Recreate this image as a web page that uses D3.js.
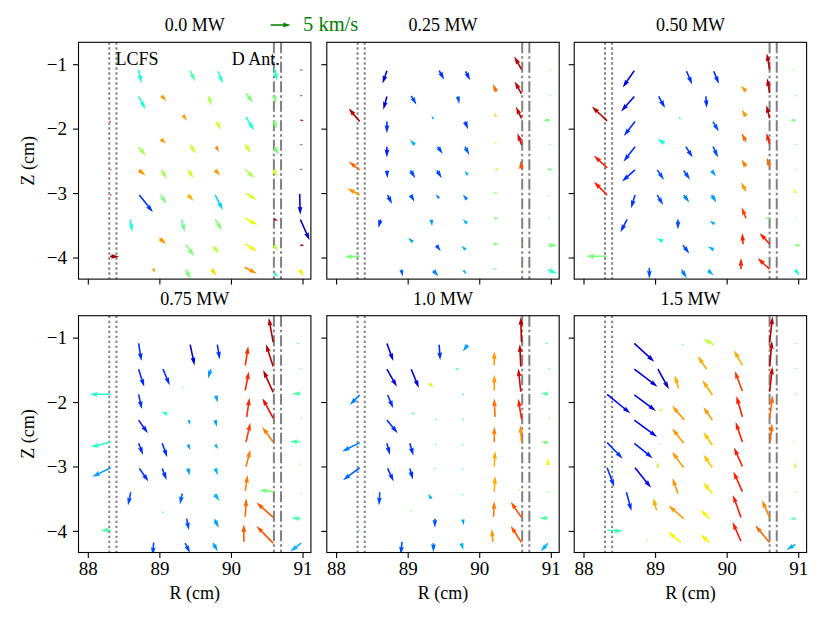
<!DOCTYPE html>
<html><head><meta charset="utf-8">
<script src="https://cdn.jsdelivr.net/npm/d3@7"></script>
<style>body{margin:0;background:#fff}</style></head>
<body><svg id="c" width="831" height="629"></svg>
<script>
// ---------------- data ----------------
const titles = ["0.0 MW", "0.25 MW", "0.50 MW", "0.75 MW", "1.0 MW", "1.5 MW"];
const xTicks = [88, 89, 90, 91];
const yTicks = [-1, -2, -3, -4];
const lcfsR = [88.3, 88.4];
const antennaR = [90.6, 90.7];
const keySpeed = 5; // km/s
const keyLabel = "5 km/s";
// each arrow: [R (cm), Z (cm), vR (km/s), vZ (km/s), colour value 0..1 (jet)]
const p000 = [
[88.71,-1.09,0.67,-3.3,0.38],[89.43,-1.10,1.25,-2.7,0.45],[89.82,-1.11,1.2,-3.1,0.40],[90.61,-1.06,0.6,-3.2,0.40],[90.97,-1.09,0.7,0,0.97],
[88.71,-1.50,1.7,-3.2,0.38],[89.03,-1.49,1.25,-1.3,0.75],[89.69,-1.50,0.7,-2.3,0.55],[90.21,-1.45,1.7,-2.3,0.50],[90.60,-1.49,0.7,-1.8,0.50],[90.97,-1.49,0.6,0,0.97],
[89.33,-1.79,1.0,-1.4,0.75],[89.80,-1.89,1.1,-2.1,0.60],[90.21,-1.82,2.0,-3.3,0.38],[90.60,-1.87,0.7,-2.2,0.50],[90.97,-1.87,0.9,0,0.97],[88.30,-1.89,0.6,0,0.90],
[88.71,-2.28,1.8,-2.25,0.55],[89.02,-2.16,1.3,-1.2,0.75],[89.43,-2.25,1.4,-2.25,0.60],[89.79,-2.28,0.8,-1.25,0.78],[90.20,-2.24,1.3,-2.2,0.60],[90.61,-2.28,1.0,-2.1,0.50],[90.97,-2.25,0.6,0,0.97],
[88.71,-2.64,1.7,-1.4,0.75],[89.03,-2.64,1.25,-2.25,0.55],[89.40,-2.64,1.4,-2.1,0.60],[89.78,-2.64,1.25,-1.4,0.75],[90.20,-2.63,2.3,-2.25,0.55],[90.60,-2.64,0.8,-1.8,0.60],[90.97,-2.63,0.6,0,0.97],[88.31,-2.64,0.6,0,0.90],
[88.72,-3.03,3.4,-4.3,0.18],[89.02,-3.03,1.4,-2.25,0.50],[89.40,-3.03,1.4,-1.5,0.72],[89.78,-3.03,1.9,-3.75,0.33],[90.21,-3.00,2.7,-1.8,0.60],[90.96,-3.01,0.15,-5.25,0.08],[88.31,-3.03,0.6,0,0.90],
[88.59,-3.41,0.6,-3.1,0.38],[89.31,-3.41,0.8,-3.1,0.47],[89.78,-3.41,1.7,-2.75,0.50],[90.20,-3.39,3.1,-1.7,0.63],[90.60,-3.41,1.1,-0.2,0.97],[90.97,-3.41,2.3,-5.2,0.05],
[89.00,-3.70,1.7,-1.5,0.75],[89.37,-3.80,2.1,-2.9,0.50],[89.75,-3.83,1.6,-1.7,0.58],[90.20,-3.79,2.9,-1.8,0.65],[90.60,-3.81,1.1,-1.4,0.58],[90.97,-3.81,1.0,0,0.97],[88.31,-3.98,2.3,-0.15,0.97],
[88.91,-4.17,0.6,-1.1,0.75],[89.37,-4.19,1.25,-2.3,0.50],[89.73,-4.18,1.25,-1.7,0.68],[90.19,-4.15,3.1,-1.6,0.76],[90.61,-4.24,0.8,-1.2,0.40],[90.96,-4.19,1.0,-1.7,0.65]
];
const p025 = [
[88.71,-1.10,-1.1,-3.2,0.08],[89.44,-1.10,1.25,-2.25,0.17],[89.81,-1.11,1.1,-2.25,0.17],[90.59,-1.08,-1.8,3.2,0.95],[90.98,-1.09,0.6,0,0.50],
[88.71,-1.50,-0.9,-3.3,0.08],[89.05,-1.49,1.3,-2.25,0.20],[89.70,-1.50,0.4,-1.8,0.20],[90.24,-1.43,-0.9,2.0,0.80],[90.59,-1.46,-1.7,3.1,0.95],[90.98,-1.49,0.6,0,0.50],
[88.33,-1.89,-2.75,3.3,0.95],[88.71,-1.89,0,-2.9,0.17],[89.36,-1.85,-0.5,0.9,0.30],[89.80,-1.89,0.8,-1.9,0.18],[90.24,-1.81,-0.7,0.8,0.70],[90.59,-1.84,-1.4,2.9,0.93],[90.98,-1.87,-1.7,0,0.50],
[88.71,-2.28,0,-2.7,0.15],[89.10,-2.25,-1.25,1.25,0.30],[89.42,-2.28,1.25,-1.8,0.20],[89.80,-2.28,1.1,-2.1,0.22],[90.24,-2.23,-0.6,0.4,0.63],[90.59,-2.25,-1.0,2.9,0.92],[90.98,-2.25,0.6,0,0.50],
[88.33,-2.64,-2.75,2.1,0.80],[88.71,-2.65,0.15,-1.9,0.17],[89.04,-2.65,1.2,-1.9,0.20],[89.41,-2.65,1.2,-1.9,0.20],[89.84,-2.72,-0.8,1.1,0.30],[90.26,-2.63,-1.0,0,0.58],[90.59,-2.63,-0.3,2.1,0.82],[90.96,-2.63,1.2,0,0.50],
[88.33,-3.03,-3.1,1.7,0.75],[88.72,-3.03,1.1,-2.25,0.18],[89.04,-3.03,1.0,-1.7,0.20],[89.44,-3.08,-0.9,1.0,0.25],[89.83,-3.10,-1.1,1.25,0.25],[90.21,-3.00,1.0,0,0.52],[90.96,-3.03,0.5,-0.2,0.40],
[88.62,-3.41,-0.5,-2.1,0.18],[89.33,-3.41,0.2,-1.7,0.28],[89.83,-3.47,-1.1,1.0,0.30],[90.21,-3.39,1.2,0,0.50],[90.96,-3.40,0.6,0,0.50],
[88.33,-3.98,-3.9,-0.2,0.50],[89.07,-3.76,-1.1,1.1,0.28],[89.40,-3.81,1.1,-1.5,0.20],[89.81,-3.88,-1.1,1.0,0.30],[90.20,-3.79,1.4,0,0.50],[90.59,-3.79,0.5,0,0.65],[90.96,-3.81,2.3,0,0.50],
[88.91,-4.19,0.4,-1.7,0.22],[89.36,-4.20,1.25,-1.5,0.25],[89.78,-4.20,0.8,-1.0,0.30],[90.20,-4.18,1.0,0,0.50],[90.59,-4.18,0.5,0,0.65],[90.96,-4.19,2.3,-1.0,0.40]
];
const p050 = [
[90.60,-1.08,-0.7,4.0,0.95],[88.71,-1.10,-2.9,-4.2,0.08],[89.44,-1.11,1.4,-3.3,0.17],[89.82,-1.11,1.3,-3.2,0.17],[90.96,-1.09,-0.6,0,0.50],
[88.71,-1.50,-3.3,-3.75,0.10],[89.05,-1.50,1.6,-2.9,0.17],[89.71,-1.50,0.2,-2.9,0.17],[90.27,-1.42,-1.25,1.4,0.75],[90.60,-1.45,-0.6,3.75,0.95],[90.96,-1.49,0.6,0,0.50],
[88.33,-1.88,-3.8,3.6,0.95],[88.72,-1.89,-2.8,-3.6,0.17],[89.34,-1.82,0.25,-0.8,0.40],[89.81,-1.89,1.4,-2.5,0.20],[90.27,-1.81,-1.1,1.7,0.75],[90.60,-1.84,-0.8,3.3,0.95],[90.96,-1.87,-1.4,0,0.50],
[88.72,-2.28,-2.9,-3.75,0.17],[89.13,-2.23,-1.7,1.2,0.38],[89.43,-2.28,1.7,-2.7,0.18],[89.81,-2.28,1.25,-2.7,0.20],[90.27,-2.20,-1.1,2.1,0.80],[90.60,-2.24,-0.8,2.8,0.88],[90.96,-2.25,0.6,0,0.50],
[88.33,-2.61,-3.3,3.1,0.88],[88.72,-2.64,-3.25,-2.9,0.17],[89.03,-2.64,1.7,-2.5,0.20],[89.40,-2.65,1.6,-2.3,0.20],[89.79,-2.65,1.1,-1.5,0.28],[90.27,-2.59,-1.1,1.8,0.78],[90.60,-2.59,-0.7,2.3,0.80],[90.96,-2.63,0.6,0,0.50],
[88.33,-3.03,-3.3,3.3,0.88],[88.72,-3.03,-1.0,-3.3,0.18],[89.03,-3.03,1.5,-2.5,0.20],[89.40,-3.03,1.4,-1.9,0.25],[89.79,-3.03,1.2,-1.9,0.28],[90.27,-2.97,-1.25,2.25,0.75],[90.96,-3.00,0,1.1,0.65],
[88.61,-3.41,-1.7,-3.2,0.17],[89.32,-3.41,0,-2.5,0.20],[89.83,-3.48,-1.25,0.8,0.30],[90.27,-3.39,-1.1,2.75,0.84],[90.60,-3.39,-1.3,0,0.50],[90.96,-3.40,0.6,0,0.50],
[89.11,-3.75,-1.6,0.8,0.38],[89.39,-3.81,1.6,-2.1,0.20],[89.82,-3.88,-1.5,0.8,0.30],[90.23,-3.79,-0.25,2.75,0.88],[90.60,-3.79,-2.5,2.75,0.88],[90.96,-3.81,1.4,0,0.50],
[88.33,-3.98,-5.2,0,0.50],[88.92,-4.16,0,-2.75,0.20],[89.37,-4.19,1.3,-2.1,0.25],[89.74,-4.20,1.4,-1.3,0.30],[90.20,-4.18,0,2.75,0.88],[90.60,-4.18,-3.0,2.75,0.88],[90.96,-4.19,1.1,-1.5,0.40]
];
const p075 = [
[90.59,-1.07,-1.1,6.1,0.95],[88.71,-1.09,0.7,-4.4,0.17],[89.43,-1.11,1.1,-5.2,0.08],[89.81,-1.11,0.6,-3.7,0.17],[90.20,-1.43,0.75,4.75,0.87],[90.59,-1.45,-1.8,5.6,0.95],[90.95,-1.09,-0.7,0,0.45],
[88.71,-1.49,1.4,-4.4,0.17],[89.05,-1.49,1.7,-4.0,0.17],[89.72,-1.49,-0.75,-2.3,0.28],[90.20,-1.82,0.9,4.75,0.87],[90.59,-1.85,-2.5,5.6,0.95],[90.96,-1.48,0.6,0,0.50],
[88.32,-1.88,-5.3,0,0.40],[88.71,-1.88,0.8,-3.7,0.17],[89.34,-1.78,-0.6,0.1,0.50],[89.79,-1.90,0.4,-1.8,0.28],[90.22,-2.23,0.7,4.8,0.87],[90.59,-2.25,-2.7,5.0,0.90],[90.97,-1.87,-2.1,0,0.45],
[88.71,-2.28,2.3,-3.3,0.15],[89.11,-2.19,-1.4,0.7,0.38],[89.41,-2.28,0.4,-1.25,0.28],[89.78,-2.28,0.4,-1.7,0.28],[90.21,-2.62,1.1,4.8,0.85],[90.59,-2.62,-2.75,3.75,0.78],[90.97,-2.26,0.6,0,0.50],
[88.32,-2.62,-5.0,-1.25,0.40],[88.71,-2.64,1.1,-2.9,0.17],[89.04,-2.64,1.25,-3.5,0.17],[89.40,-2.66,0.6,-1.4,0.28],[89.78,-2.66,0.8,-1.2,0.30],[90.21,-3.00,1.1,4.2,0.78],[90.97,-2.62,-2.7,0.2,0.45],
[88.32,-3.02,-4.6,-2.25,0.28],[88.72,-3.03,2.3,-3.3,0.17],[89.04,-3.03,1.1,-2.9,0.17],[89.40,-3.03,0.4,-1.8,0.28],[89.78,-3.03,0.7,-1.7,0.30],[90.20,-3.38,0.6,4.0,0.78],[90.97,-2.98,0,0.7,0.58],
[88.60,-3.40,-0.7,-3.3,0.20],[90.59,-3.39,-3.5,0.4,0.50],[89.32,-3.42,-0.6,-2.75,0.22],[89.77,-3.43,1.3,-1.7,0.30],[90.20,-3.78,0.25,4.6,0.80],[90.59,-3.79,-4.2,3.75,0.82],[90.97,-3.42,0.6,0,0.50],
[89.06,-3.72,-0.6,0.4,0.40],[89.38,-3.81,0.6,-2.9,0.20],[89.77,-3.82,1.1,-2.1,0.28],[90.97,-3.81,-2.3,0.2,0.45],[90.18,-4.17,0,4.4,0.82],[90.59,-4.19,-4.2,4.3,0.82],
[88.32,-3.99,-2.5,0,0.45],[88.92,-4.18,-0.25,-3.2,0.20],[89.36,-4.19,1.25,-2.5,0.20],[89.75,-4.19,1.2,-2.1,0.28],[90.98,-4.19,-2.7,-2.1,0.30]
];
const p100 = [
[90.59,-1.07,-0.2,6.25,0.95],[88.71,-1.09,1.6,-4.4,0.08],[89.44,-1.11,0.25,-3.9,0.17],[89.84,-1.11,-1.25,-1.7,0.28],[90.21,-1.43,0,3.5,0.75],[90.58,-1.45,-0.25,5.6,0.95],[90.96,-1.09,-0.8,0,0.45],
[88.71,-1.49,2.5,-4.4,0.08],[89.05,-1.49,1.9,-4.7,0.08],[89.71,-1.49,-1.0,0.2,0.45],[90.21,-1.82,0,3.9,0.75],[90.58,-1.84,-0.6,5.8,0.92],[90.96,-1.48,0.6,0,0.40],
[89.30,-1.71,1.1,-1.1,0.60],[88.33,-1.89,-2.5,-2.5,0.25],[88.72,-1.89,1.4,-3.3,0.17],[89.79,-1.88,-0.8,0,0.45],[90.22,-2.23,-0.2,4.6,0.80],[90.59,-2.26,-0.8,5.0,0.88],[90.96,-1.87,-1.8,0,0.45],
[88.71,-2.28,2.7,-3.3,0.17],[89.09,-2.18,-1.0,0.2,0.45],[89.41,-2.27,-0.6,0,0.40],[89.79,-2.27,-0.7,0,0.45],[90.21,-2.62,0,3.9,0.78],[90.59,-2.62,-0.3,4.2,0.75],[90.96,-2.26,0.6,0,0.50],
[88.33,-2.63,-4.4,-2.2,0.25],[88.71,-2.64,0.75,-2.9,0.17],[89.03,-2.64,0.9,-3.1,0.17],[89.40,-2.66,-0.6,0,0.40],[89.78,-2.66,-0.6,0,0.40],[90.21,-3.00,0.2,3.9,0.73],[90.96,-2.63,-1.7,0.25,0.50],[90.96,-2.98,0,1.8,0.65],
[88.33,-3.02,-4.2,-3.1,0.22],[88.72,-3.03,1.5,-3.3,0.17],[89.03,-3.03,0.8,-2.75,0.17],[89.39,-3.03,-0.6,0,0.40],[89.78,-3.04,-0.6,0,0.40],[90.21,-3.39,0.2,3.9,0.73],[90.57,-3.37,-0.5,0.3,0.55],[90.96,-3.40,0.6,0,0.50],
[88.61,-3.40,-0.2,-3.3,0.20],[89.33,-3.50,-0.8,1.25,0.30],[89.78,-3.44,-0.6,0,0.40],[90.20,-3.78,0.2,3.9,0.78],[90.59,-3.79,-2.7,3.9,0.82],[90.96,-3.80,-2.25,0,0.45],[89.06,-3.69,-0.6,0,0.50],
[89.38,-3.81,0,-2.3,0.20],[89.77,-3.82,0.25,-1.5,0.28],[90.19,-4.17,-0.25,3.3,0.75],[90.59,-4.18,-2.7,4.2,0.82],[88.33,-3.99,-0.6,0,0.40],
[88.92,-4.17,-0.3,-3.2,0.20],[89.36,-4.19,0,-2.25,0.22],[89.75,-4.19,0.5,-1.7,0.30],[90.96,-4.19,-1.8,-2.1,0.30]
];
const p150 = [
[90.60,-1.07,0.75,6.4,0.95],[88.71,-1.09,5.0,-4.6,0.08],[89.40,-1.11,-0.6,0,0.42],[89.82,-1.11,-2.7,1.5,0.58],[90.22,-1.43,-2.1,3.75,0.73],[90.60,-1.45,0.6,6.4,0.95],[90.96,-1.09,0.6,0,0.50],
[88.71,-1.49,5.8,-4.4,0.08],[89.04,-1.49,2.75,-5.0,0.06],[89.72,-1.49,-2.25,3.3,0.73],[89.33,-1.79,-1.0,3.3,0.73],[89.80,-1.89,-2.5,3.75,0.73],[90.22,-1.83,-1.9,5.0,0.85],[90.60,-1.84,0.7,6.25,0.93],[90.96,-1.48,0.6,0,0.45],
[88.33,-1.88,5.8,-4.75,0.10],[88.71,-1.89,5.4,-4.0,0.10],[89.10,-2.11,-1.0,-0.5,0.58],[89.41,-2.28,-3.1,3.6,0.75],[89.80,-2.28,-2.25,3.3,0.75],[90.22,-2.23,-1.5,5.2,0.88],[90.60,-2.25,0.8,5.7,0.80],[90.96,-1.87,0.6,0,0.45],
[88.71,-2.28,5.7,-4.2,0.10],[89.05,-2.64,0.6,0,0.50],[89.40,-2.64,-2.9,3.75,0.75],[89.80,-2.67,-2.25,3.3,0.70],[90.22,-2.62,-1.7,5.0,0.88],[90.61,-2.62,0.4,4.6,0.80],[90.96,-2.61,-0.6,-0.3,0.55],
[88.33,-2.63,3.9,-4.0,0.17],[88.71,-2.64,4.6,-3.75,0.15],[89.40,-3.02,-2.9,4.0,0.75],[89.80,-3.02,-2.25,3.3,0.70],[90.22,-3.00,-2.1,4.75,0.88],[89.04,-3.02,-0.2,1.5,0.58],[90.96,-3.02,0,1.4,0.58],
[88.33,-3.02,1.8,-4.75,0.17],[88.72,-3.02,4.0,-5.0,0.10],[89.32,-3.42,-1.4,3.9,0.75],[89.80,-3.42,-2.25,2.75,0.67],[90.22,-3.39,-2.25,5.0,0.88],[90.96,-3.40,0.6,0,0.50],[90.60,-3.37,0.5,0,0.50],
[88.60,-3.40,1.25,-4.7,0.17],[89.02,-3.68,-0.8,3.1,0.73],[89.40,-3.81,-3.8,3.3,0.75],[89.76,-3.81,-2.25,2.3,0.65],[90.20,-3.79,-2.0,5.6,0.88],[90.60,-3.79,-1.9,4.3,0.77],[90.96,-3.81,-1.4,0,0.45],
[88.33,-3.99,3.9,-0.25,0.43],[88.88,-4.14,0.5,-0.4,0.52],[89.36,-4.18,-3.2,2.7,0.65],[89.76,-4.18,-2.25,2.0,0.65],[90.20,-4.16,-2.1,4.8,0.88],[90.60,-4.18,-3.6,4.3,0.80],[90.96,-4.21,-2.25,-1.4,0.30]
];
const panelData = [p000, p025, p050, p075, p100, p150];

// ---------------- layout ----------------
const svg = d3.select("#c");
const FONT = "'Liberation Serif','Times New Roman','DejaVu Serif',serif";
const colLeft = [78.5, 326.8, 574.2], rowTop = [42.3, 315.7];
const PW = 232.4, PH = 236.8;
const x = d3.scaleLinear().domain([87.87, 91.117]).range([0, PW]);
const y = d3.scaleLinear().domain([-4.335, -0.66]).range([PH, 0]);
const speed = d3.scaleLinear().domain([0, keySpeed]).range([0, 20]); // px
const SHAFT = 1.6;

// jet colormap (matplotlib segment data)
const jr = d3.scaleLinear().domain([0,0.35,0.66,0.89,1]).range([0,0,1,1,0.5]).clamp(true);
const jg = d3.scaleLinear().domain([0,0.125,0.375,0.64,0.91,1]).range([0,0,1,1,0,0]).clamp(true);
const jb = d3.scaleLinear().domain([0,0.11,0.34,0.65,1]).range([0.5,1,1,0,0]).clamp(true);
const jet = t => d3.rgb(255*jr(t), 255*jg(t), 255*jb(t)).toString();

// matplotlib quiver arrow polygon (units of shaft width)
function arrowPoints(L, w) {
  const Lw = L / w;
  const Ybase = [0.5,0.5,1.5,0,-1.5,-0.5,-0.5,0.5];
  let X, Y;
  if (Lw < 1) {
    X = d3.range(8).map(i => Math.cos(i*Math.PI/3)*0.5);
    Y = d3.range(8).map(i => Math.sin(i*Math.PI/3)*0.5);
  } else if (Lw < 5) {
    const s = Lw / 5;
    X = [0,0.5,0,5,0,0.5,0,0].map(v => v*s);
    Y = Ybase.map(v => v*s);
  } else {
    X = [0, Lw-4.5, Lw-5, Lw, Lw-5, Lw-4.5, 0, 0];
    Y = Ybase;
  }
  return X.map((xx,i) => [xx*w, Y[i]*w]);
}
function drawArrow(g, x0, y0, u, v, color) {
  const L = speed(Math.hypot(u, v));
  const ang = Math.atan2(-v, u) * 180 / Math.PI;
  g.append("polygon")
    .attr("points", arrowPoints(L, SHAFT).map(p => p.join(",")).join(" "))
    .attr("transform", `translate(${x0},${y0}) rotate(${ang})`)
    .attr("fill", color);
}

panelData.forEach((data, i) => {
  const col = i % 3, row = Math.floor(i / 3);
  const g = svg.append("g").attr("transform", `translate(${colLeft[col]},${rowTop[row]})`);
  const cid = "clip" + i;
  g.append("clipPath").attr("id", cid).append("rect").attr("width", PW).attr("height", PH);
  const inner = g.append("g").attr("clip-path", `url(#${cid})`);

  lcfsR.forEach(r => inner.append("line")
    .attr("x1", x(r)).attr("x2", x(r)).attr("y1", 0).attr("y2", PH)
    .attr("stroke", "#808080").attr("stroke-width", 2).attr("stroke-dasharray", "2.4,2.6"));
  antennaR.forEach(r => inner.append("line")
    .attr("x1", x(r)).attr("x2", x(r)).attr("y1", 0).attr("y2", PH)
    .attr("stroke", "#808080").attr("stroke-width", 2).attr("stroke-dasharray", "11,3,2.5,3"));

  data.forEach(d => drawArrow(inner, x(d[0]), y(d[1]), d[2], d[3], jet(d[4])));

  g.append("rect").attr("width", PW).attr("height", PH)
    .attr("fill", "none").attr("stroke", "#000").attr("stroke-width", 1.1);

  const xa = g.append("g").attr("transform", `translate(0,${PH})`)
    .call(d3.axisBottom(x).tickValues(xTicks).tickSize(5.5).tickPadding(4)
      .tickFormat(row === 1 ? d3.format("d") : () => ""));
  const ya = g.append("g")
    .call(d3.axisLeft(y).tickValues(yTicks).tickSize(5.5).tickPadding(6)
      .tickFormat(col === 0 ? d3.format("d") : () => ""));
  [xa, ya].forEach(a => {
    a.select(".domain").remove();
    a.selectAll("line").attr("stroke", "#000").attr("stroke-width", 1.1);
    a.selectAll("text").attr("font-family", FONT).attr("font-size", 19).attr("fill", "#000");
  });

  g.append("text").attr("x", PW/2).attr("y", -11).attr("text-anchor", "middle")
    .attr("font-family", FONT).attr("font-size", 18).text(titles[i]);

  if (row === 1) g.append("text").attr("x", PW/2).attr("y", PH + 46.5).attr("text-anchor", "middle")
    .attr("font-family", FONT).attr("font-size", 18).text("R (cm)");
  if (col === 0) g.append("text")
    .attr("transform", `translate(${-45},${PH/2}) rotate(-90)`).attr("text-anchor", "middle")
    .attr("font-family", FONT).attr("font-size", 18).text("Z (cm)");

  if (i === 0) {
    g.append("text").attr("x", 37).attr("y", 23).attr("font-family", FONT).attr("font-size", 18).text("LCFS");
    g.append("text").attr("x", 153.2).attr("y", 23).attr("font-family", FONT).attr("font-size", 18).text("D Ant.");
  }
});

// quiver key
const key = svg.append("g");
drawArrow(key, 270.7, 25, keySpeed, 0, "#008000");
key.append("text").attr("x", 303).attr("y", 30.5).attr("font-family", FONT)
  .attr("font-size", 20.5).attr("fill", "#008000").text(keyLabel);
</script>
</body></html>
